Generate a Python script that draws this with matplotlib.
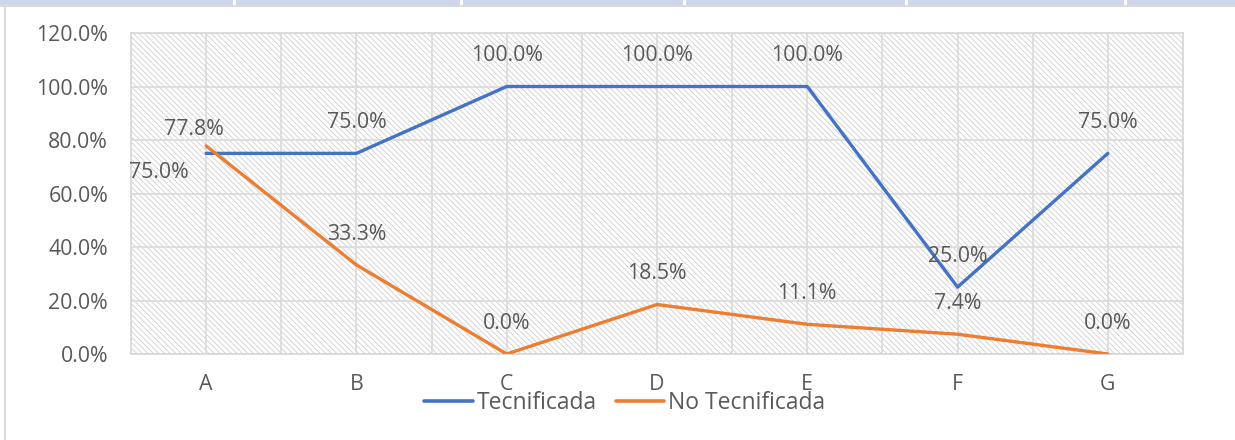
import matplotlib
matplotlib.use("Agg")
import matplotlib.pyplot as plt
from matplotlib.patches import Rectangle
from matplotlib.lines import Line2D
from matplotlib.ticker import FuncFormatter, MultipleLocator

categories = ["A", "B", "C", "D", "E", "F", "G"]
tecnificada = [75.0, 75.0, 100.0, 100.0, 100.0, 25.0, 75.0]
no_tecnificada = [77.8, 33.3, 0.0, 18.5, 11.1, 7.4, 0.0]
series_names = ["Tecnificada", "No Tecnificada"]

BLUE = "#4472C4"
ORANGE = "#ED7D31"
TXT = "#595959"
FS = 15.3
plt.rcParams["font.family"] = ["Open Sans", "DejaVu Sans"]
plt.rcParams["hatch.linewidth"] = 0.65

fig = plt.figure(figsize=(12.35, 4.4), dpi=100)
# screenshot-like surroundings
fig.patches.append(Rectangle((0, 1 - 5 / 440), 1, 5 / 440, transform=fig.transFigure,
                             facecolor="#CFD5EA", edgecolor="none"))
fig.patches.append(Rectangle((0, 1 - 7 / 440), 1, 2 / 440, transform=fig.transFigure,
                             facecolor="#DADADA", edgecolor="none"))
for xd in (233, 460, 683, 905, 1124):
    fig.patches.append(Rectangle((xd / 1235, 1 - 5 / 440), 3 / 1235, 5 / 440,
                                 transform=fig.transFigure, facecolor="white", edgecolor="none"))
fig.patches.append(Rectangle((4 / 1235, 0), 2 / 1235, 1 - 7 / 440, transform=fig.transFigure,
                             facecolor="#D9D9D9", edgecolor="none"))

ax = fig.add_axes([131 / 1235, 1 - 354 / 440, 1052 / 1235, 321 / 440])
x = list(range(len(categories)))
ax.set_xlim(-0.5, len(categories) - 0.5)
ax.set_ylim(0, 120)

ax.add_patch(Rectangle((0, 0), 1, 1, transform=ax.transAxes, facecolor="white",
                       edgecolor="#D2D2D2", linewidth=0, hatch="\\" * 6, zorder=0))

ax.yaxis.set_major_locator(MultipleLocator(20))
ax.xaxis.set_minor_locator(MultipleLocator(0.5))
ax.set_xticks(x)
ax.set_xticklabels(categories)
ax.yaxis.set_major_formatter(FuncFormatter(lambda v, p: f"{v:.1f}%"))
ax.grid(True, axis="y", color="#DCDCDC", linewidth=1.3, zorder=1)
ax.grid(True, axis="x", which="both", color="#DCDCDC", linewidth=1.3, zorder=1)
ax.set_axisbelow(True)
for s in ["top", "right", "left", "bottom"]:
    ax.spines[s].set_color("#D9D9D9")
    ax.spines[s].set_linewidth(1.3)
ax.tick_params(axis="both", which="both", length=0, labelsize=FS, colors=TXT)
ax.tick_params(axis="x", pad=14.5)
ax.tick_params(axis="y", pad=16.5)

ax.plot(x, tecnificada, color=BLUE, linewidth=2.4, solid_capstyle="round", zorder=3)
ax.plot(x, no_tecnificada, color=ORANGE, linewidth=2.4, solid_capstyle="round", zorder=3)

for i, v in enumerate(tecnificada):
    off = (-34, -14) if i == 0 else (0, 22)
    ax.annotate(f"{v:.1f}%", (i, v), xytext=off, textcoords="offset points",
                ha="center", va="center", fontsize=FS, color=TXT, zorder=4)
for i, v in enumerate(no_tecnificada):
    off = (-9, 12) if i == 0 else (0, 22)
    ax.annotate(f"{v:.1f}%", (i, v), xytext=off, textcoords="offset points",
                ha="center", va="center", fontsize=FS, color=TXT, zorder=4)

handles = [Line2D([], [], color=BLUE, linewidth=2.6, solid_capstyle="round"),
           Line2D([], [], color=ORANGE, linewidth=2.6, solid_capstyle="round")]
fig.legend(handles, series_names, loc="center", bbox_to_anchor=(625 / 1235, 1 - 403 / 440),
           ncol=2, frameon=False, fontsize=16.5, labelcolor=TXT, handlelength=2.1,
           handletextpad=0.2, columnspacing=0.8)

fig.savefig("out.png", dpi=100)
